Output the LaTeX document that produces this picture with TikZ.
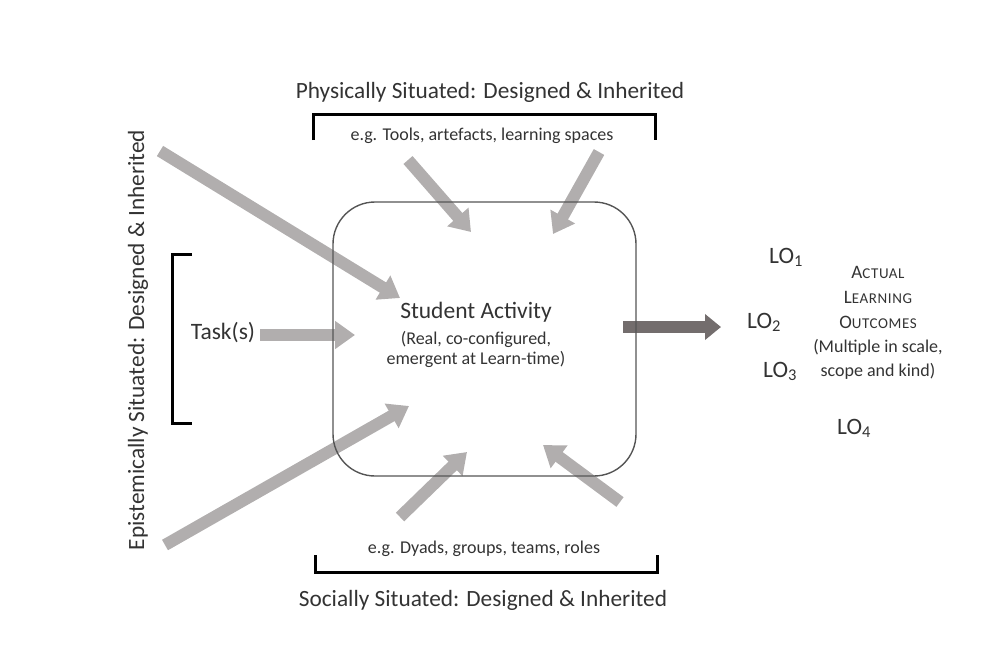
\documentclass[tikz,border=0pt]{standalone}
\usepackage{fontspec}
\setmainfont{Carlito}
\usetikzlibrary{arrows.meta}
\definecolor{txt}{HTML}{333333}
\definecolor{lightarr}{HTML}{B1AEAE}
\definecolor{darkarr}{HTML}{736D6D}
\definecolor{boxline}{HTML}{555555}
\newcommand\fakesc[2]{{\addfontfeature{LetterSpace=4}\fontsize{19}{24}\selectfont #1\fontsize{15}{24}\selectfont #2}}
\begin{document}
\begin{tikzpicture}[x=1pt,y=-1pt,
  lbl/.style={text=txt, inner sep=0pt, align=center},
  big/.style={font=\fontsize{23.3}{26}\selectfont},
  mid/.style={font=\fontsize{23.5}{26}\selectfont},
  small/.style={font=\fontsize{18}{20}\selectfont},
  inarrow/.style={draw=lightarr, line width=12pt, -{Triangle[length=20pt,width=27pt]}},
  outarrow/.style={draw=darkarr, line width=12pt, -{Triangle[length=16pt,width=25pt]}},
  bracketline/.style={draw=black, line width=3pt},
  actbox/.style={draw=boxline, line width=1.4pt, rounded corners=42pt, minimum width=303pt, minimum height=274pt, inner sep=0pt}
]
\useasboundingbox (0,0) rectangle (1000,659);

% arrow end points
\coordinate (a1s) at (160,151); \coordinate (a1e) at (400,298);
\coordinate (a2s) at (408,160); \coordinate (a2e) at (471,232);
\coordinate (a3s) at (599,152); \coordinate (a3e) at (553,234);
\coordinate (a4s) at (260,335); \coordinate (a4e) at (355,335);
\coordinate (a5s) at (165,545); \coordinate (a5e) at (409,406);
\coordinate (a6s) at (400,517); \coordinate (a6e) at (467,452);
\coordinate (a7s) at (620,502); \coordinate (a7e) at (543,445);
\coordinate (os) at (623,327); \coordinate (oe) at (721,327);

% arrows
\draw[inarrow] (a1s) -- (a1e);
\draw[inarrow] (a2s) -- (a2e);
\draw[inarrow] (a3s) -- (a3e);
\draw[inarrow] (a4s) -- (a4e);
\draw[inarrow] (a5s) -- (a5e);
\draw[inarrow] (a6s) -- (a6e);
\draw[inarrow] (a7s) -- (a7e);
\draw[outarrow] (os) -- (oe);

% central box
\node[actbox] (act) at (484.5,339) {};

% brackets
\draw[bracketline] (313,140) -- (313,114) -- (655,114) -- (655,140);
\draw[bracketline] (192,254) -- (172,254) -- (172,423) -- (192,423);
\draw[bracketline] (315,555) -- (315,572) -- (657,572) -- (657,555);

% texts
\node[lbl,big,anchor=base] (phys) at (490,98) {Physically Situated: Designed \& Inherited};
\node[lbl,small,anchor=base] (physeg) at (482,140) {e.g. Tools, artefacts, learning spaces};
\node[lbl,mid,anchor=base] (sa) at (476,318) {Student Activity};
\node[lbl,small,anchor=north] (sasub) at (476,331) {(Real, co-configured,\\emergent at Learn-time)};
\node[lbl,mid] (task) at (223,333) {Task(s)};
\node[lbl,big,rotate=90] (epi) at (138,340) {Epistemically Situated: Designed \& Inherited};
\node[lbl,small,anchor=base] (soceg) at (484,553) {e.g. Dyads, groups, teams, roles};
\node[lbl,big,anchor=base] (soc) at (483,606) {Socially Situated: Designed \& Inherited};

\node[lbl,mid,anchor=base west] (lo1) at (769,263) {LO\textsubscript{1}};
\node[lbl,mid,anchor=base west] (lo2) at (747,328) {LO\textsubscript{2}};
\node[lbl,mid,anchor=base west] (lo3) at (763,377) {LO\textsubscript{3}};
\node[lbl,mid,anchor=base west] (lo4) at (837,434) {LO\textsubscript{4}};

\node[lbl,anchor=north,font=\fontsize{18}{24}\selectfont] (alo) at (878,266)
  {\fakesc{A}{CTUAL}\\[1pt]\fakesc{L}{EARNING}\\[1pt]\fakesc{O}{UTCOMES}\\(Multiple in scale,\\scope and kind)};
\end{tikzpicture}
\end{document}
